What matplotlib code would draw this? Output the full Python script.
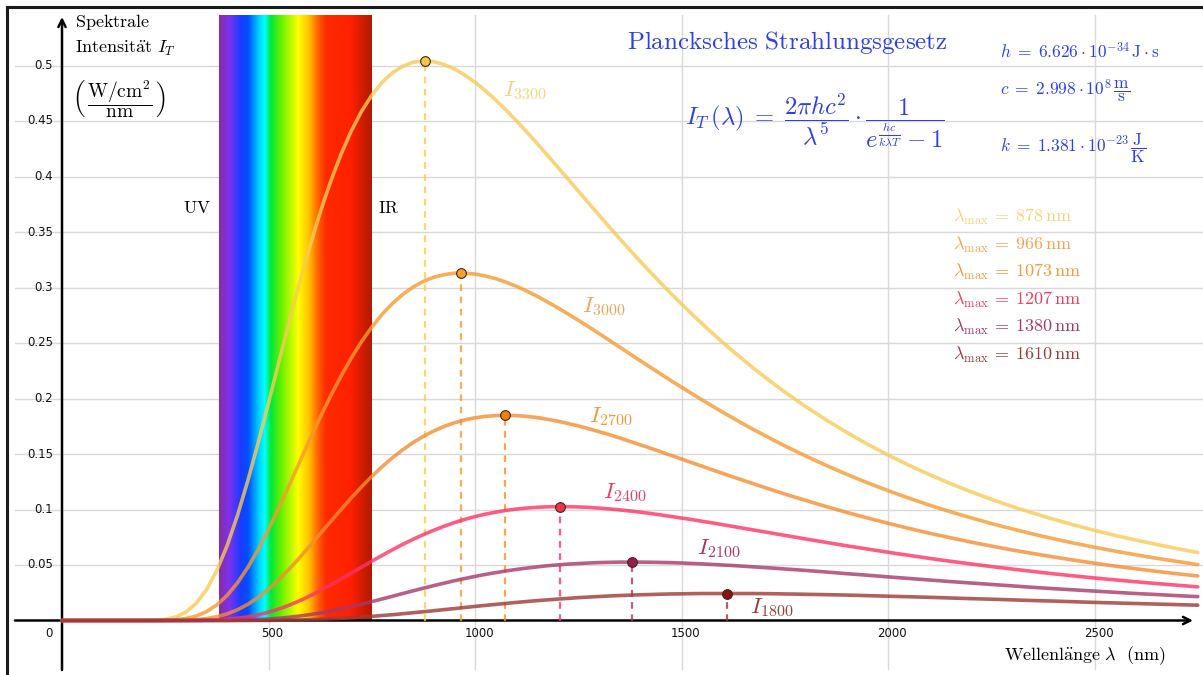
import numpy as np
import matplotlib.pyplot as plt
from matplotlib.colors import LinearSegmentedColormap
from matplotlib.lines import Line2D

plt.rcParams['mathtext.fontset'] = 'cm'

W, H = 1203, 675

# wavelengths in nm: 0, then every 25 nm up to 1800, then every 50 nm up to 2750
wavelength = [0] + list(range(200, 1800, 25)) + list(range(1800, 2751, 50))

# spectral intensity, in 1e-4 W/cm^2/nm
i3300 = [0,
         0, 3, 10, 31, 75, 155, 278, 452, 676, 948, 1260, 1601, 1960, 2326, 2689, 3039,
         3370, 3675, 3951, 4195, 4407, 4585, 4732, 4848, 4934, 4994, 5029, 5042, 5034, 5009,
         4969, 4915, 4849, 4773, 4690, 4599, 4503, 4403, 4299, 4193, 4086, 3978, 3869, 3761,
         3653, 3546, 3441, 3338, 3236, 3137, 3039, 2944, 2851, 2761, 2673, 2588, 2505, 2425,
         2347, 2271, 2198, 2128, 2059, 1993, 1929,
         1808, 1695, 1589, 1491, 1400, 1315, 1235, 1161, 1092, 1028, 969, 913, 861, 812,
         767, 725, 685, 648, 613]
i3000 = [0,
         0, 0, 2, 6, 18, 40, 80, 141, 227, 340, 478, 639, 820, 1014, 1217, 1424,
         1629, 1829, 2019, 2198, 2362, 2511, 2643, 2758, 2856, 2938, 3004, 3055, 3092, 3116,
         3129, 3130, 3121, 3104, 3080, 3048, 3011, 2968, 2922, 2871, 2818, 2762, 2705, 2646,
         2586, 2525, 2464, 2402, 2341, 2280, 2220, 2160, 2102, 2044, 1987, 1931, 1876, 1823,
         1770, 1719, 1670, 1621, 1574, 1528, 1483,
         1398, 1317, 1241, 1170, 1103, 1040, 981, 926, 874, 826, 780, 737, 697, 660,
         625, 592, 561, 532, 504]
i2700 = [0,
         0, 0, 0, 1, 3, 8, 17, 34, 60, 97, 146, 208, 282, 367, 462, 564,
         670, 780, 889, 998, 1103, 1203, 1298, 1385, 1466, 1538, 1603, 1659, 1707, 1748,
         1781, 1807, 1826, 1839, 1846, 1849, 1846, 1839, 1828, 1813, 1796, 1775, 1753, 1728,
         1702, 1674, 1645, 1614, 1583, 1552, 1520, 1487, 1455, 1422, 1390, 1357, 1325, 1293,
         1262, 1231, 1200, 1170, 1140, 1111, 1083,
         1027, 974, 924, 876, 830, 787, 746, 707, 671, 636, 604, 573, 544, 516,
         490, 466, 443, 421, 401]
i2400 = [0,
         0, 0, 0, 0, 0, 1, 3, 6, 11, 20, 33, 51, 75, 103, 138, 177,
         221, 269, 319, 372, 426, 480, 534, 586, 637, 686, 731, 774, 813, 849,
         882, 911, 936, 958, 976, 992, 1004, 1013, 1020, 1024, 1026, 1025, 1023, 1019,
         1013, 1005, 997, 987, 976, 964, 951, 937, 923, 909, 894, 879, 863, 847,
         831, 815, 799, 783, 767, 751, 735,
         704, 673, 644, 615, 587, 560, 534, 510, 486, 464, 442, 421, 402, 383,
         366, 349, 333, 318, 303]
i2100 = [0,
         0, 0, 0, 0, 0, 0, 0, 1, 1, 3, 5, 8, 13, 20, 29, 40,
         53, 68, 85, 105, 125, 147, 170, 194, 218, 243, 267, 291, 314, 336,
         358, 378, 397, 415, 431, 446, 460, 472, 483, 493, 501, 508, 513, 518,
         522, 524, 526, 526, 526, 525, 523, 521, 518, 514, 510, 505, 500, 495,
         489, 483, 477, 471, 464, 458, 451,
         437, 422, 408, 393, 379, 365, 351, 338, 325, 312, 299, 287, 276, 265,
         254, 243, 234, 224, 215]
i1800 = [0,
         0, 0, 0, 0, 0, 0, 0, 0, 0, 0, 0, 1, 1, 2, 4, 5,
         8, 11, 15, 19, 25, 31, 37, 45, 52, 61, 70, 79, 88, 98,
         107, 117, 127, 136, 145, 154, 163, 171, 179, 186, 193, 199, 206, 211,
         216, 221, 225, 228, 232, 234, 237, 239, 240, 242, 243, 243, 243, 243,
         243, 243, 242, 241, 239, 238, 236,
         233, 229, 224, 219, 214, 209, 203, 197, 192, 186, 180, 175, 169, 163,
         158, 153, 148, 143, 138]

temps = [3300, 3000, 2700, 2400, 2100, 1800]
curves = [i3300, i3000, i2700, i2400, i2100, i1800]
peak_nm = [878, 966, 1073, 1207, 1380, 1610]
peak_val = [0.5042, 0.3131, 0.1849, 0.1026, 0.0526, 0.0243]
lmax_labels = ['878', '966', '1073', '1207', '1380', '1610']

ytick_vals = [0.05, 0.1, 0.15, 0.2, 0.25, 0.3, 0.35, 0.4, 0.45, 0.5]
ytick_labels = ['0.05', '0.1', '0.15', '0.2', '0.25', '0.3', '0.35', '0.4', '0.45', '0.5']
xtick_vals = [500, 1000, 1500, 2000, 2500]

line_colors = ['#F9CB55', '#F7992F', '#F58C30', '#FF3366', '#A8386A', '#9C3A36']
dot_colors = ['#F7C744', '#F7A02A', '#F2800C', '#F0324E', '#9A1C4C', '#8A1212']
text_colors = ['#F6D27B', '#F5A456', '#F29A3E', '#EC3F63', '#A23A66', '#983C3C']
blue = '#2E3FE6'

# spectrum stops (nm, colour)
spec_stops = [(380, '#8A2BA8'), (405, '#7A33F0'), (432, '#1A3CFF'), (450, '#0050FF'),
              (475, '#00CCFF'), (490, '#00FFFF'), (505, '#00E83A'), (530, '#66F000'),
              (572, '#FFFF00'), (598, '#FFC000'), (622, '#FF5A00'), (640, '#FF2A00'),
              (700, '#FF2000'), (750, '#B01A00')]

fig = plt.figure(figsize=(W / 100, H / 100), dpi=100)
ax = fig.add_axes([15 / W, 5 / H, 1188 / W, 655 / H])
xmin, xmax = (15 - 62) / 0.413, (1203 - 62) / 0.413
ymin, ymax = (620.5 - 670) / 1110, (620.5 - 15) / 1110
ax.set_axis_off()

# grid
for v in ytick_vals:
    ax.plot([xmin, xmax], [v, v], color='#D9D9D9', lw=1, zorder=0)
for v in xtick_vals:
    ax.plot([v, v], [ymin, ymax], color='#D9D9D9', lw=1, zorder=0)

# visible spectrum band
lo, hi = spec_stops[0][0], spec_stops[-1][0]
cmap = LinearSegmentedColormap.from_list(
    'spec', [((w - lo) / (hi - lo), col) for w, col in spec_stops])
ax.imshow(np.linspace(0, 1, 400)[None, :], cmap=cmap, aspect='auto',
          extent=(lo, hi, 0, ymax), zorder=1, interpolation='bilinear')

# axes with arrows
ax.annotate('', xy=((1193 - 62) / 0.413, 0), xytext=(xmin, 0),
            arrowprops=dict(arrowstyle='->', lw=1.8, color='black',
                            shrinkA=0, shrinkB=0, mutation_scale=13), zorder=2)
ax.annotate('', xy=(0, (620.5 - 17) / 1110), xytext=(0, ymin),
            arrowprops=dict(arrowstyle='->', lw=1.8, color='black',
                            shrinkA=0, shrinkB=0, mutation_scale=13), zorder=2)

# curves, peak markers and dashed drop lines
wl = np.array(wavelength)
for vals, lc, dc, pn, pv in zip(curves, line_colors, dot_colors, peak_nm, peak_val):
    ax.plot(wl, np.array(vals) * 1e-4, color=lc, alpha=0.8, lw=2.6,
            solid_capstyle='round', solid_joinstyle='round', zorder=3)
    ax.plot([pn, pn], [0, pv], color=lc, alpha=0.8, lw=1.6, ls=(0, (3, 2.5)), zorder=3)
    ax.plot([pn], [pv], 'o', ms=7, mfc=dc, mec='#3A2A1A', mew=0.8, zorder=4)

ax.set_xlim(xmin, xmax)
ax.set_ylim(ymin, ymax)

# tick labels
for v, s in zip(ytick_vals, ytick_labels):
    ax.text(-22, v, s, ha='right', va='center', fontsize=8.5, color='#111111')
for v in xtick_vals:
    ax.text(v + 10, -0.0115, str(v), ha='center', va='center', fontsize=8.5, color='#111111')
ax.text(-31, -0.0115, '0', ha='center', va='center', fontsize=8.5, color='#111111')


def ftext(x, y, s, **kw):
    fig.text(x / W, 1 - y / H, s, **kw)


ftext(75, 22, r'$\mathrm{Spektrale}$', fontsize=13, va='center')
ftext(75, 48, r'$\mathrm{Intensit\ddot{a}t}\ I_T$', fontsize=13, va='center')
ftext(72, 99, r'$\left(\,\dfrac{\mathrm{W/cm}^2}{\mathrm{nm}}\,\right)$',
      fontsize=14, va='center')
ftext(1165, 656, r'$\mathrm{Wellenl\ddot{a}nge}\ \lambda\ \ (\mathrm{nm})$',
      fontsize=13, va='center', ha='right')
ftext(211, 208, r'$\mathrm{UV}$', fontsize=12.5, va='center', ha='right')
ftext(378, 208, r'$\mathrm{IR}$', fontsize=12.5, va='center')

# formula block
ftext(627, 43, r'$\mathrm{Plancksches\ Strahlungsgesetz}$', fontsize=18,
      va='center', color=blue)
ftext(685, 121, r'$I_T\,(\lambda) \;=\; \dfrac{2\pi h c^2}{\lambda^5}\cdot'
      r'\dfrac{1}{e^{\frac{hc}{k\lambda T}}-1}$', fontsize=17.7, va='center', color=blue)
ftext(1000, 52, r'$h \;=\; 6.626\cdot 10^{-34}\,\mathrm{J}\cdot\mathrm{s}$',
      fontsize=12.5, va='center', color=blue)
ftext(1000, 91, r'$c \;=\; 2.998\cdot 10^{8}\,\dfrac{\mathrm{m}}{\mathrm{s}}$',
      fontsize=12.5, va='center', color=blue)
ftext(1000, 148, r'$k \;=\; 1.381\cdot 10^{-23}\,\dfrac{\mathrm{J}}{\mathrm{K}}$',
      fontsize=12.5, va='center', color=blue)

# lambda_max list
for i, (lab, col) in enumerate(zip(lmax_labels, text_colors)):
    ftext(953, 217 + i * 27.6, r'$\lambda_{\max} \:=\: ' + lab + r'\,\mathrm{nm}$',
          fontsize=13, va='center', color=col)

# curve labels
label_pos = [(503, 91), (582, 307), (589, 417), (603, 493), (697, 549), (750, 607)]
for T, (x, y), col in zip(temps, label_pos, text_colors):
    ftext(x, y, r'$I_{%d}$' % T, fontsize=16.5, va='center', color=col)

# outer frame (left and top edges)
fig.add_artist(Line2D([7 / W, 7 / W], [0, 1 - 7 / H], color='#1A1A1A', lw=2.2))
fig.add_artist(Line2D([7 / W, 1], [1 - 7 / H, 1 - 7 / H], color='#1A1A1A', lw=2.2))

fig.savefig('out.png', dpi=100)
